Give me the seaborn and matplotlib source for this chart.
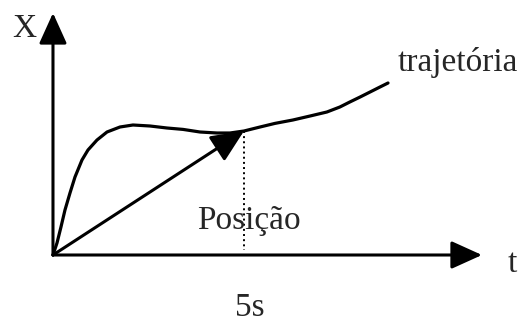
import numpy as np
import pandas as pd
import matplotlib
matplotlib.use('Agg')
import matplotlib.pyplot as plt
import seaborn as sns

# trajectory x(t) (t in s, x in arbitrary units)
t_vals = [0, 0.105, 0.209, 0.314, 0.445, 0.576, 0.759, 0.916, 1.152, 1.414,
          1.754, 2.094, 2.539, 2.984, 3.403, 3.848, 4.293, 4.634, 5.0, 5.42,
          5.81, 6.28, 6.73, 7.17, 7.51, 7.77, 8.04, 8.30, 8.56, 8.77]
x_vals = [0, 0.6, 1.4, 2.25, 3.1, 3.9, 4.75, 5.25, 5.75, 6.15,
          6.4, 6.5, 6.45, 6.35, 6.28, 6.15, 6.1, 6.1, 6.2, 6.4,
          6.58, 6.75, 6.95, 7.15, 7.4, 7.65, 7.9, 8.15, 8.4, 8.6]
t_mark = 5.0
x_mark = 6.2
t_axis_end = 11.23
x_axis_end = 12.1

df = pd.DataFrame({'t': t_vals, 'x': x_vals})

sns.set_style('white')
plt.rcParams['font.family'] = ['Liberation Serif', 'DejaVu Serif']

fig = plt.figure(figsize=(5.19, 3.25), dpi=100)
ax = fig.add_axes([0, 0, 1, 1])
ax.set_xlim(-1.387, 12.199)
ax.set_ylim(-3.5, 12.75)
ax.axis('off')

sns.lineplot(data=df, x='t', y='x', sort=False, color='black', lw=2.3, ax=ax)

# axes with arrow heads
axis_arrow = dict(arrowstyle='-|>,head_length=0.95,head_width=0.43',
                  mutation_scale=20, lw=2.2, color='black',
                  shrinkA=0, shrinkB=0)
ax.annotate('', xy=(0, x_axis_end), xytext=(0, 0), arrowprops=axis_arrow)
ax.annotate('', xy=(t_axis_end, 0), xytext=(0, 0), arrowprops=axis_arrow)

# position vector at 5 s
ax.annotate('', xy=(t_mark, x_mark), xytext=(0, 0),
            arrowprops=dict(arrowstyle='-|>,head_length=1.0,head_width=0.45',
                            mutation_scale=20, lw=2.2, color='black',
                            shrinkA=0, shrinkB=0))
ax.plot([t_mark, t_mark], [x_mark, 0.25], color='black', ls=':', lw=1.4)

fs = 24
ax.text(-0.76, 10.9, 'X', fontsize=fs, ha='center', va='baseline')
ax.text(9.01, 9.2, 'trajetória', fontsize=fs, ha='left', va='baseline')
ax.text(3.78, 1.3, 'Posição', fontsize=fs, ha='left', va='baseline')
ax.text(11.9, -0.85, 't', fontsize=fs, ha='left', va='baseline')
ax.text(5.16, -3.05, '5s', fontsize=fs, ha='center', va='baseline')

fig.savefig('out.png', dpi=100)
